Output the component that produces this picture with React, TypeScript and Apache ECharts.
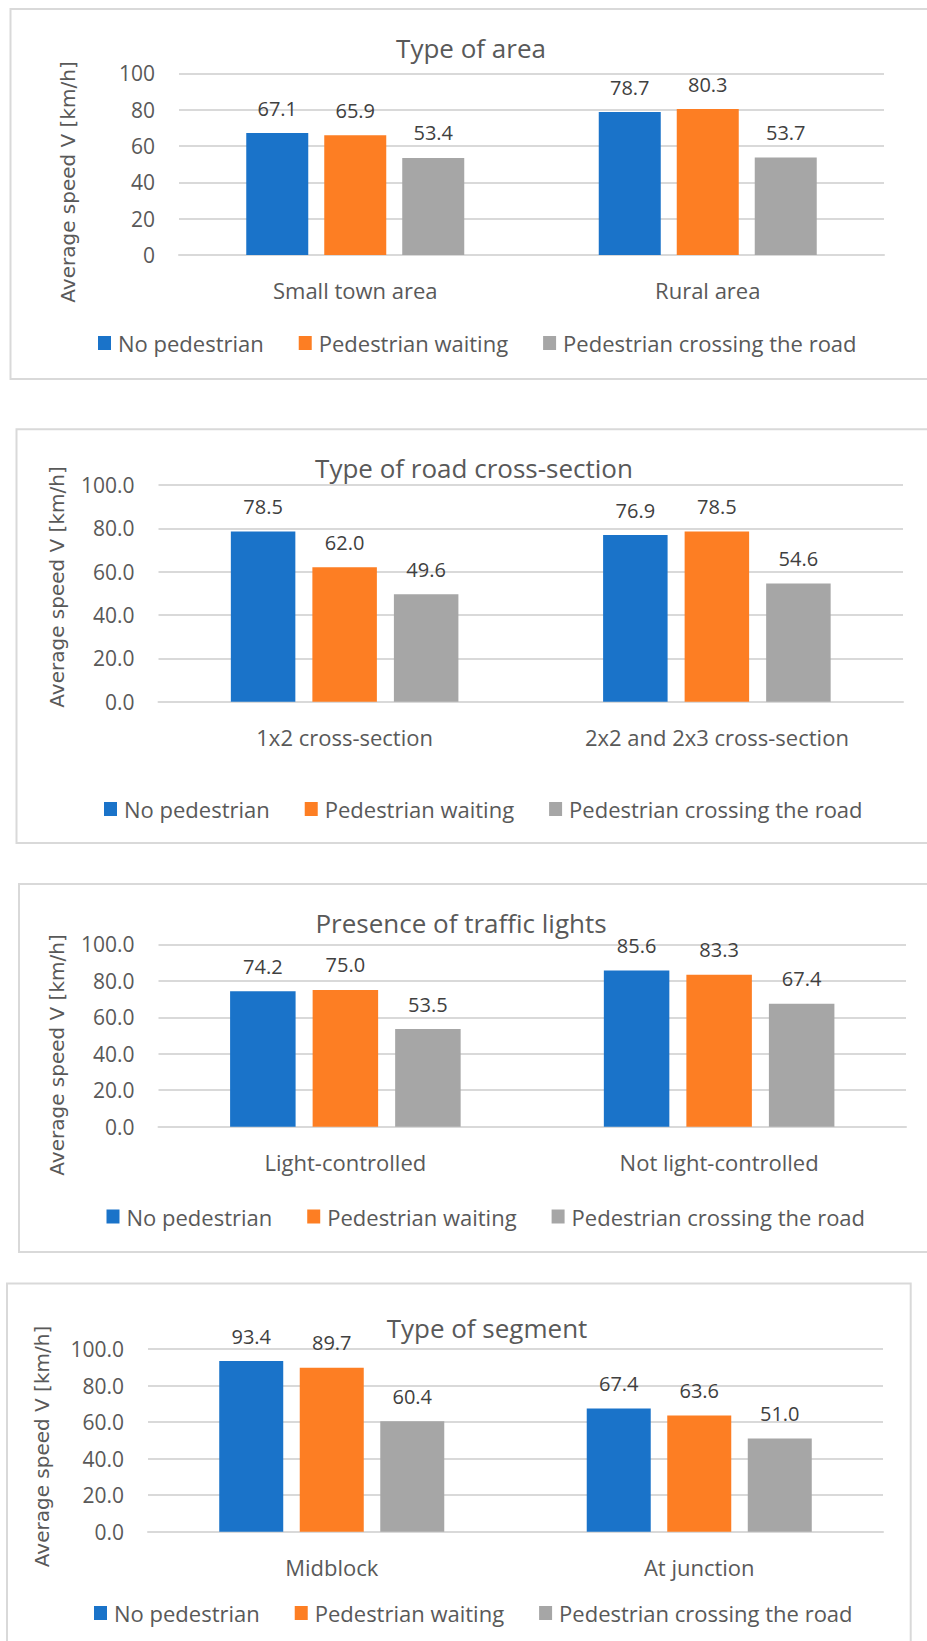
import React, { useEffect, useRef } from "react";
import * as echarts from "echarts";

const seriesNames = ["No pedestrian", "Pedestrian waiting", "Pedestrian crossing the road"];
const colors = ["#1A73C9", "#FD7E23", "#A6A6A6"];

const titles = ["Type of area", "Type of road cross-section", "Presence of traffic lights", "Type of segment"];
const yAxisName = "Average speed V [km/h]";

const categories1 = ["Small town area", "Rural area"];
const noPed1 = [67.1, 78.7];
const waiting1 = [65.9, 80.3];
const crossing1 = [53.4, 53.7];

const categories2 = ["1x2 cross-section", "2x2 and 2x3 cross-section"];
const noPed2 = [78.5, 76.9];
const waiting2 = [62.0, 78.5];
const crossing2 = [49.6, 54.6];

const categories3 = ["Light-controlled", "Not light-controlled"];
const noPed3 = [74.2, 85.6];
const waiting3 = [75.0, 83.3];
const crossing3 = [53.5, 67.4];

const categories4 = ["Midblock", "At junction"];
const noPed4 = [93.4, 67.4];
const waiting4 = [89.7, 63.6];
const crossing4 = [60.4, 51.0];

const yMin = 0;
const yMax = 100;
const yInterval = 20;
const yDecimals = [0, 1, 1, 1];

const panels = [
  { cats: categories1, data: [noPed1, waiting1, crossing1] },
  { cats: categories2, data: [noPed2, waiting2, crossing2] },
  { cats: categories3, data: [noPed3, waiting3, crossing3] },
  { cats: categories4, data: [noPed4, waiting4, crossing4] },
];

// layout (pixels)
const layout = [
  { box: [10.5, 9, 1000, 370], grid: [179, 73.3, 884, 255], title: [471, 48], yName: [68, 182], legend: [93, 338], barW: 62, gap: 16 },
  { box: [16.5, 429.3, 1000, 413.7], grid: [158.5, 485, 903, 701.7], title: [474, 468], yName: [57, 587], legend: [99, 804], barW: 64.5, gap: 17 },
  { box: [19, 884, 1000, 368], grid: [158.5, 944.3, 906, 1126.7], title: [461, 923], yName: [56.5, 1055], legend: [101.5, 1211.5], barW: 65.5, gap: 17 },
  { box: [7, 1283.5, 903.7, 500], grid: [148, 1349, 883, 1531.7], title: [487, 1328], yName: [42, 1446.5], legend: [89, 1608], barW: 64, gap: 16.5 },
];

const W = 927;
const H = 1641;
const textColor = "#595959";
const font = "'Open Sans', sans-serif";

export default function App() {
  const ref = useRef<HTMLDivElement>(null);
  useEffect(() => {
    if (!ref.current) return;
    const chart = echarts.init(ref.current, undefined, { renderer: "svg" });
    const grids: any[] = [];
    const xAxes: any[] = [];
    const yAxes: any[] = [];
    const legends: any[] = [];
    const series: any[] = [];
    const graphics: any[] = [];
    panels.forEach((p, i) => {
      const L = layout[i];
      const [gl, gt, gr, gb] = L.grid;
      grids.push({ left: gl, top: gt, width: gr - gl, height: gb - gt, containLabel: false });
      xAxes.push({
        type: "category",
        gridIndex: i,
        data: p.cats,
        axisTick: { show: false },
        axisLine: { show: true, lineStyle: { color: "#D9D9D9", width: 2 } },
        axisLabel: { color: textColor, fontFamily: font, fontSize: 22, margin: 35, verticalAlign: "middle" },
      });
      yAxes.push({
        type: "value",
        gridIndex: i,
        min: yMin,
        max: yMax,
        interval: yInterval,
        axisLine: { show: false },
        axisTick: { show: false },
        splitLine: { lineStyle: { color: "#D9D9D9", width: 2 } },
        axisLabel: {
          color: textColor,
          fontFamily: font,
          fontSize: 21,
          margin: 24,
          formatter: (v: number) => v.toFixed(yDecimals[i]),
        },
      });
      legends.push({
        data: seriesNames,
        left: L.legend[0],
        top: L.legend[1] - 12,
        itemWidth: 13,
        itemHeight: 14,
        itemGap: 35,
        icon: "rect",
        textStyle: { color: textColor, fontFamily: font, fontSize: 22, lineHeight: 24, padding: [0, 0, 0, 2] },
      });
      p.data.forEach((d, k) => {
        series.push({
          type: "bar",
          name: seriesNames[k],
          xAxisIndex: i,
          yAxisIndex: i,
          data: d,
          barWidth: L.barW,
          barGap: ((L.gap / L.barW) * 100).toFixed(1) + "%",
          itemStyle: { color: colors[k] },
          label: {
            show: true,
            position: "top",
            distance: 15,
            color: "#404040",
            fontFamily: font,
            fontSize: 20,
            formatter: (pr: any) => Number(pr.value).toFixed(1),
          },
        });
      });
      graphics.push({
        type: "rect",
        shape: { x: L.box[0], y: L.box[1], width: L.box[2], height: L.box[3] },
        style: { fill: "none", stroke: "#D9D9D9", lineWidth: 2 },
        silent: true,
        z: -1,
      });
      graphics.push({
        type: "text",
        x: L.title[0],
        y: L.title[1],
        style: {
          text: titles[i],
          fill: textColor,
          font: `26px ${font}`,
          textAlign: "center",
          textVerticalAlign: "middle",
        },
      });
      graphics.push({
        type: "text",
        x: L.yName[0],
        y: L.yName[1],
        rotation: Math.PI / 2,
        style: {
          text: yAxisName,
          fill: textColor,
          font: `20px 'DejaVu Sans', sans-serif`,
          textAlign: "center",
          textVerticalAlign: "middle",
        },
      });
    });
    chart.setOption({
      animation: false,
      backgroundColor: "#FFFFFF",
      grid: grids,
      xAxis: xAxes,
      yAxis: yAxes,
      legend: legends,
      series,
      graphic: graphics,
    });
    return () => chart.dispose();
  }, []);
  return (
    <div
      ref={ref}
      style={{ position: "absolute", left: 0, top: 0, width: W, height: H, background: "#fff" }}
    />
  );
}
